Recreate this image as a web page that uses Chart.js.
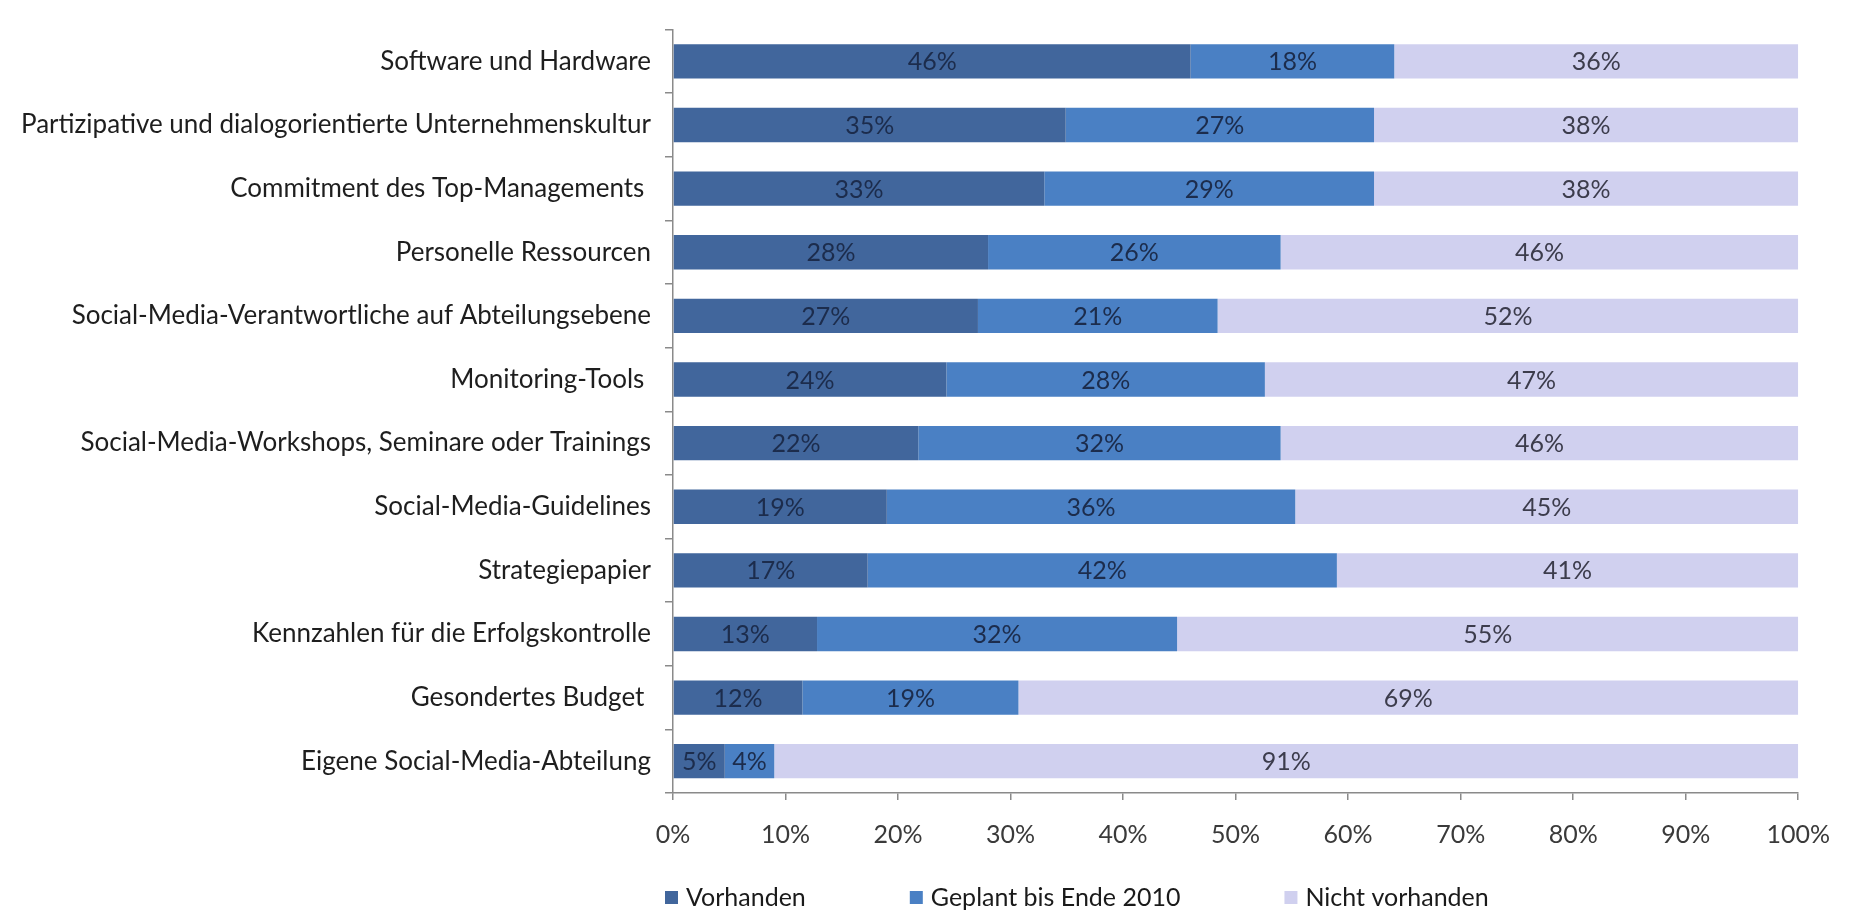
<!DOCTYPE html>
<html>
<head>
<meta charset="utf-8">
<script src="https://cdn.jsdelivr.net/npm/chart.js@4.4.1/dist/chart.umd.min.js"></script>
<style>
  html, body { margin: 0; padding: 0; background: #ffffff; }
  #wrap { position: relative; width: 1850px; height: 912px; }
</style>
</head>
<body>
<div id="wrap"><canvas id="c"></canvas></div>
<script>
const categories = [
  'Software und Hardware',
  'Partizipative und dialogorientierte Unternehmenskultur',
  'Commitment des Top-Managements ',
  'Personelle Ressourcen',
  'Social-Media-Verantwortliche auf Abteilungsebene',
  'Monitoring-Tools ',
  'Social-Media-Workshops, Seminare oder Trainings',
  'Social-Media-Guidelines',
  'Strategiepapier',
  'Kennzahlen für die Erfolgskontrolle',
  'Gesondertes Budget ',
  'Eigene Social-Media-Abteilung'
];
const seriesNames = ['Vorhanden', 'Geplant bis Ende 2010', 'Nicht vorhanden'];
const vorhanden = [46, 34.9, 33, 28, 27.1, 24.3, 21.8, 19, 17.3, 12.8, 11.5, 4.6];
const geplant   = [18.1, 27.4, 29.3, 26, 21.3, 28.3, 32.2, 36.3, 41.7, 32, 19.2, 4.4];
const nicht     = [35.9, 37.7, 37.7, 46, 51.6, 47.4, 46, 44.7, 41, 55.2, 69.3, 91];
const xTickValues = [0, 10, 20, 30, 40, 50, 60, 70, 80, 90, 100];

const colors = ['#41669C', '#4A80C4', '#D0D0EF'];
const labelColors = ['#1C2C4C', '#1C2C4C', '#3C3C4C'];
const FONT = 'Lato, Carlito, Calibri, sans-serif';
const FS = 25;
const FS_CAT = 26;

const dataLabelPlugin = {
  id: 'dataLabels',
  afterDatasetsDraw(chart) {
    const ctx = chart.ctx;
    ctx.save();
    ctx.font = FS + 'px ' + FONT;
    ctx.textAlign = 'center';
    ctx.textBaseline = 'middle';
    chart.data.datasets.forEach((ds, di) => {
      const meta = chart.getDatasetMeta(di);
      meta.data.forEach((el, i) => {
        const p = el.getProps(['x', 'y', 'base'], true);
        ctx.fillStyle = labelColors[di];
        ctx.fillText(Math.round(ds.data[i]) + '%', (p.x + p.base) / 2, p.y + 1);
      });
    });
    ctx.restore();
  }
};

const legendPlugin = {
  id: 'customLegend',
  afterDraw(chart) {
    const ctx = chart.ctx;
    ctx.save();
    ctx.font = FS + 'px ' + FONT;
    ctx.textAlign = 'left';
    ctx.textBaseline = 'middle';
    let x = 665;
    const y = 897;
    chart.data.datasets.forEach((ds) => {
      ctx.fillStyle = ds.backgroundColor;
      ctx.fillRect(x, y - 6, 13, 13);
      ctx.fillStyle = '#1a1a1a';
      ctx.fillText(ds.label, x + 21, y + 1);
      x += 21 + ctx.measureText(ds.label).width + 104;
    });
    ctx.restore();
  }
};

new Chart(document.getElementById('c'), {
  type: 'bar',
  data: {
    labels: categories,
    datasets: [
      { label: seriesNames[0], data: vorhanden, backgroundColor: colors[0] },
      { label: seriesNames[1], data: geplant, backgroundColor: colors[1] },
      { label: seriesNames[2], data: nicht, backgroundColor: colors[2] }
    ]
  },
  options: {
    indexAxis: 'y',
    responsive: true,
    maintainAspectRatio: false,
    animation: false,
    devicePixelRatio: 1,
    datasets: { bar: { barPercentage: 0.54, categoryPercentage: 1.0, borderWidth: 0 } },
    layout: { padding: { top: 12, right: 42, bottom: 57, left: 0 } },
    plugins: {
      legend: { display: false },
      tooltip: { enabled: false }
    },
    scales: {
      x: {
        stacked: true,
        min: 0,
        max: 100,
        afterBuildTicks(s) { s.ticks = xTickValues.map(v => ({ value: v })); },
        ticks: {
          callback: v => v + '%',
          font: { family: FONT, size: FS },
          color: '#3a3a3a',
          padding: 20,
          maxRotation: 0
        },
        grid: { drawOnChartArea: false, drawTicks: true, tickLength: 7, color: '#8a8a8a', lineWidth: 1.5 },
        border: { color: '#8a8a8a', width: 1.5 },
        afterFit(s) { s.height = 62; }
      },
      y: {
        stacked: true,
        ticks: {
          font: { family: FONT, size: FS_CAT },
          color: '#1e1e1e',
          padding: 14
        },
        grid: { offset: true, drawOnChartArea: false, drawTicks: true, tickLength: 8, color: '#8a8a8a', lineWidth: 1.5 },
        border: { color: '#8a8a8a', width: 1.5 },
        afterFit(s) { s.width = 673; }
      }
    }
  },
  plugins: [dataLabelPlugin, legendPlugin]
});
</script>
</body>
</html>
